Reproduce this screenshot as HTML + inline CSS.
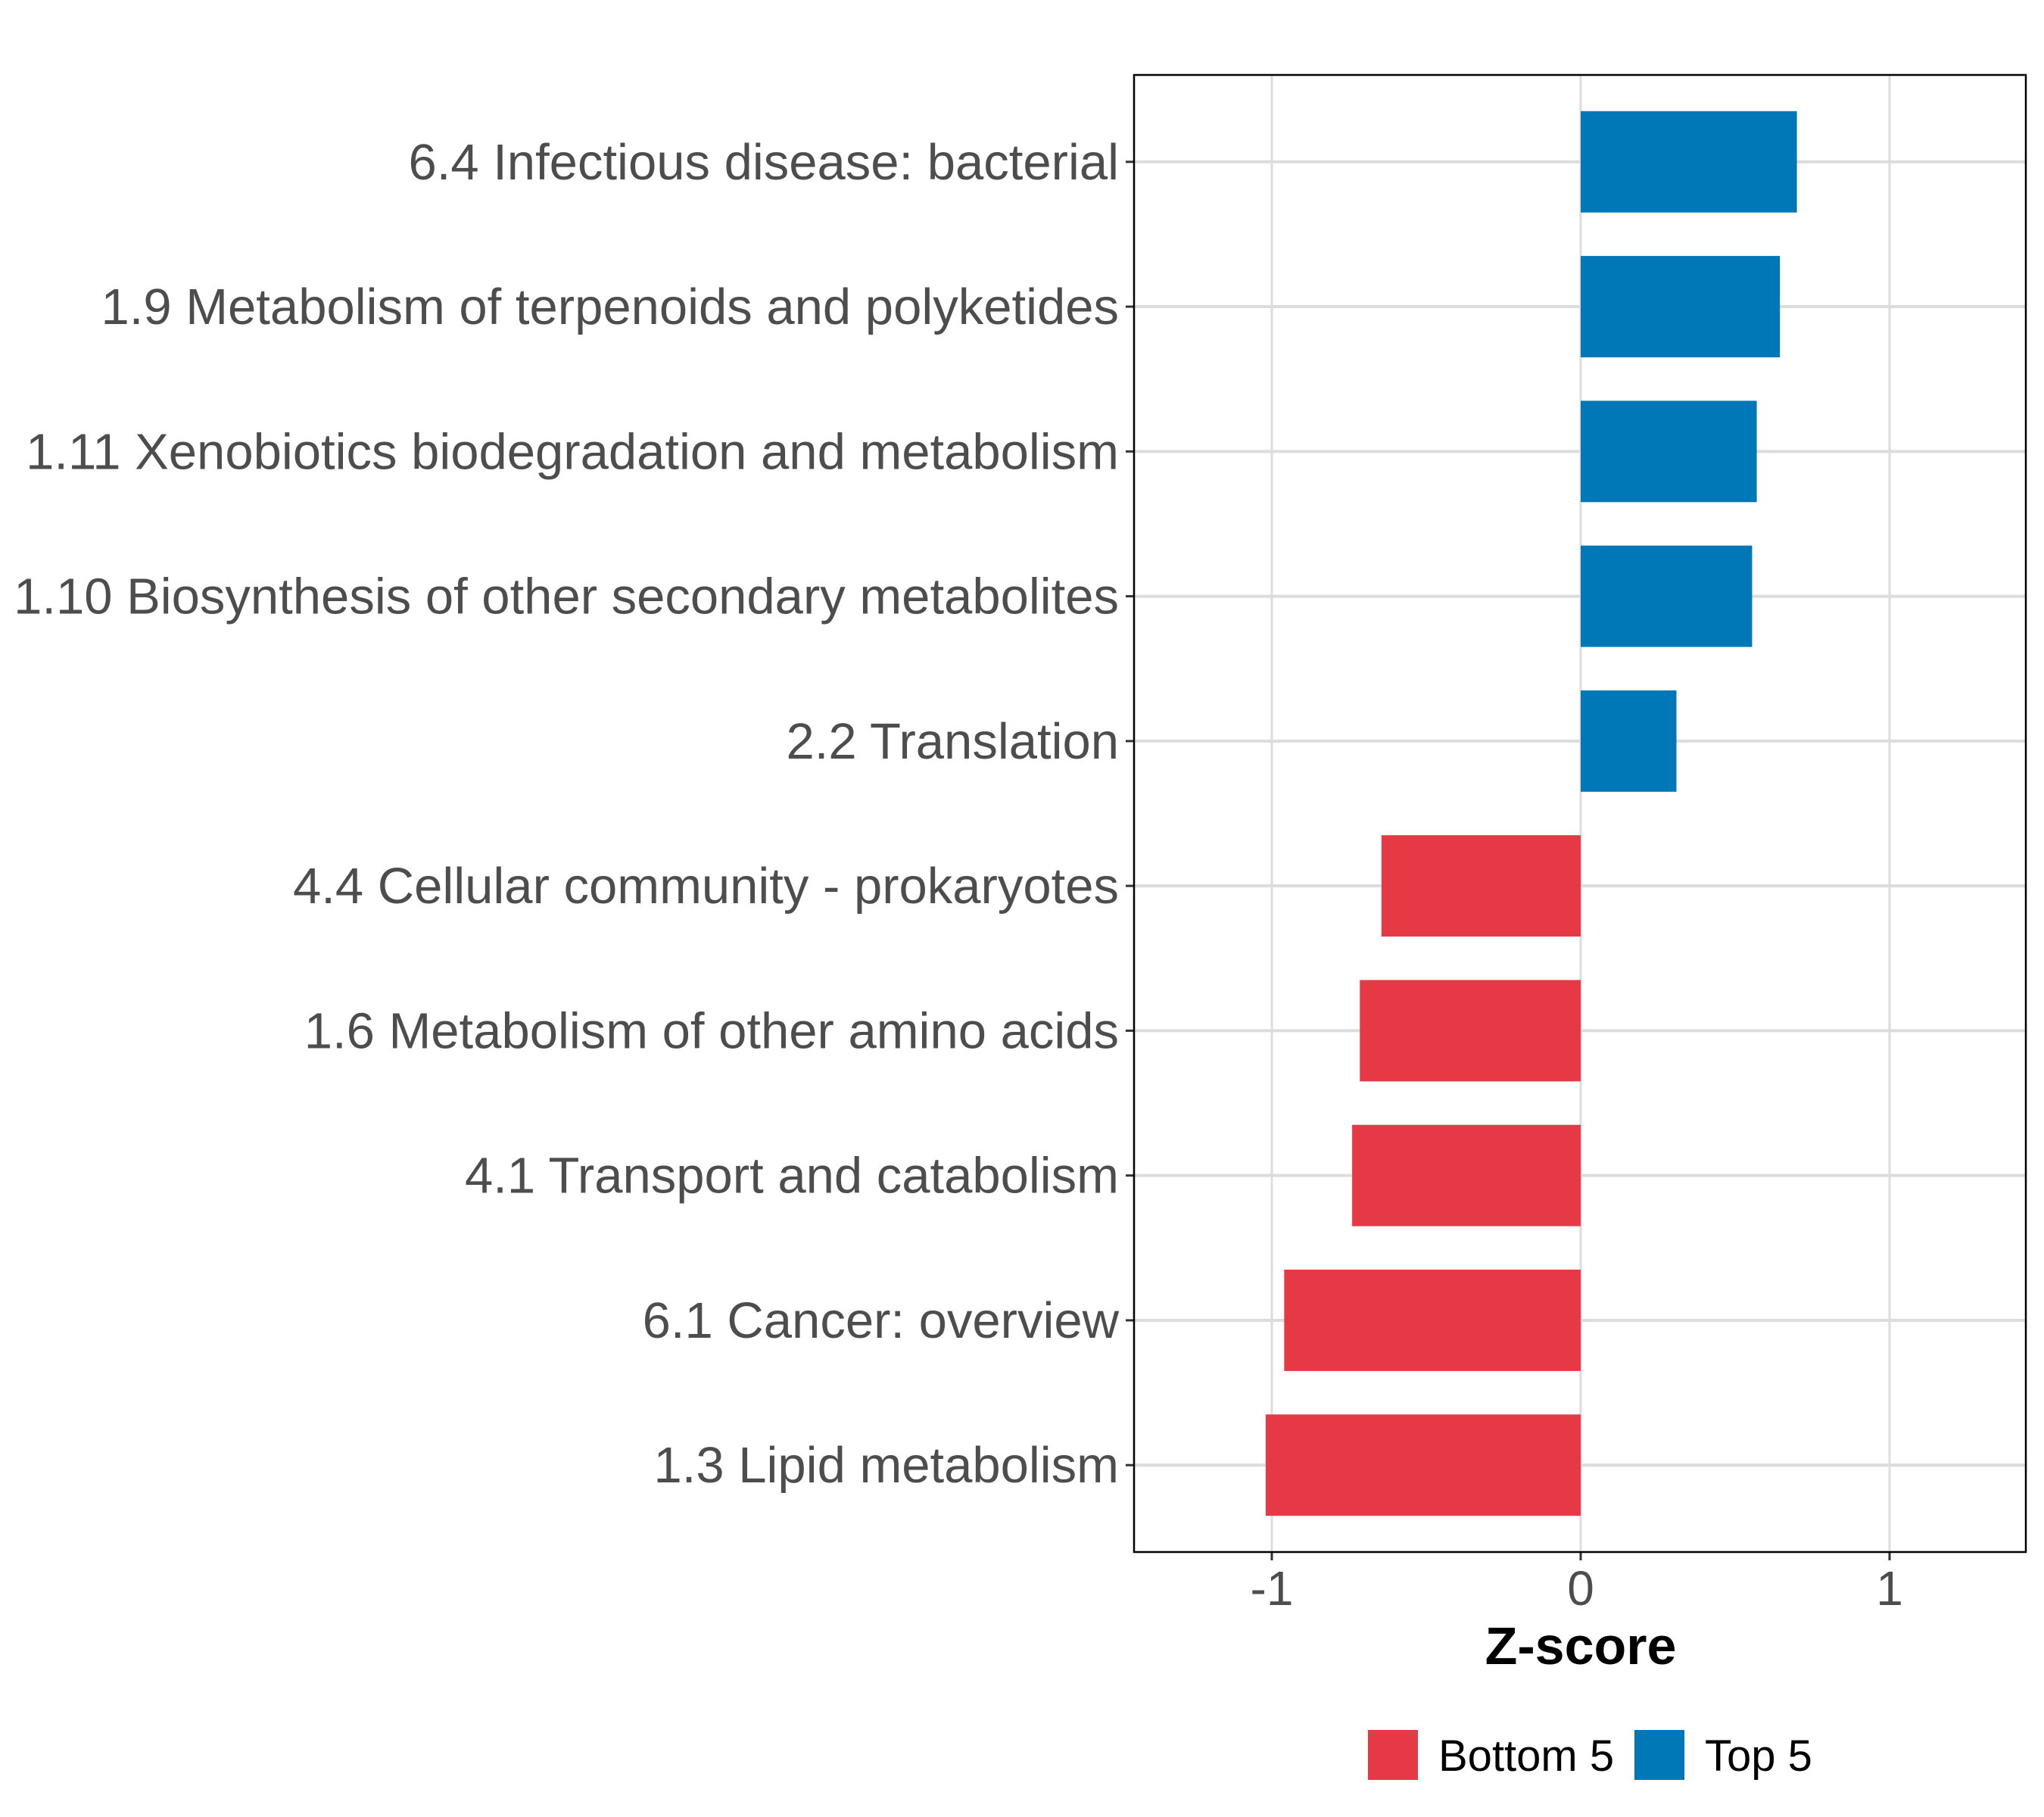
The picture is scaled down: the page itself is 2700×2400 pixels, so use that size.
<!DOCTYPE html>
<html><head><meta charset="utf-8"><style>
html,body{margin:0;padding:0;background:#fff;}
svg{display:block;font-family:"Liberation Sans",Arial,sans-serif;}
</style></head><body>
<svg id="chart" width="2700" height="2400" viewBox="0 0 2700 2400" xmlns="http://www.w3.org/2000/svg">
<rect width="2700" height="2400" fill="#fff"/>
<g id="grid"></g>
<g id="bars"></g>
<g id="yaxis"></g>
<g id="xaxis"></g>
<rect x="1498" y="99" width="1178" height="1951" fill="none" stroke="#000" stroke-width="2.5"/>
<text x="2088" y="2198" text-anchor="middle" font-size="70" font-weight="bold" fill="#000">Z-score</text>
<g>
<rect x="1807" y="2285" width="66" height="66" fill="#E63946"/>
<text x="1900" y="2339" font-size="58" fill="#000">Bottom 5</text>
<rect x="2159" y="2285" width="66" height="66" fill="#0077B6"/>
<text x="2252" y="2339" font-size="58" fill="#000">Top 5</text>
</g>
</svg>
<script>
const categories = ["6.4 Infectious disease: bacterial","1.9 Metabolism of terpenoids and polyketides","1.11 Xenobiotics biodegradation and metabolism","1.10 Biosynthesis of other secondary metabolites","2.2 Translation","4.4 Cellular community - prokaryotes","1.6 Metabolism of other amino acids","4.1 Transport and catabolism","6.1 Cancer: overview","1.3 Lipid metabolism"];
const values = [0.70, 0.645, 0.57, 0.555, 0.31, -0.645, -0.715, -0.74, -0.96, -1.02];
const groups = ["Top 5","Top 5","Top 5","Top 5","Top 5","Bottom 5","Bottom 5","Bottom 5","Bottom 5","Bottom 5"];
const xTicks = [-1, 0, 1];
const xTickLabels = ["-1","0","1"];

const NS="http://www.w3.org/2000/svg";
const PL=1498, PR=2676, PT=99, PB=2050;
const X0=2088, XU=408;
function xScale(v){return X0+v*XU;}
const step=(PB-PT)/(categories.length-1+1.2);
function yScale(i){return PT+step*(0.6+i);}
const colors={"Top 5":"#0077B6","Bottom 5":"#E63946"};
function mk(tag,attrs,parent){const e=document.createElementNS(NS,tag);for(const k in attrs)e.setAttribute(k,attrs[k]);parent.appendChild(e);return e;}
const grid=document.getElementById('grid'),bars=document.getElementById('bars'),ya=document.getElementById('yaxis'),xa=document.getElementById('xaxis');
xTicks.forEach((t,i)=>{
  const g=mk('line',{x1:xScale(t),x2:xScale(t),y1:PT,y2:PB,stroke:'#dcdcdc','stroke-width':3},grid);
  
  
  const tk=mk('line',{x1:xScale(t),x2:xScale(t),y1:PB,y2:PB+11,stroke:'#333','stroke-width':3},xa);
  
  
  const tl=mk('text',{x:xScale(t),y:2120,'text-anchor':'middle','font-size':64,fill:'#4d4d4d'},xa);
  tl.textContent=xTickLabels[i];
  
  
});
categories.forEach((c,i)=>{
  const y=yScale(i);
  const g=mk('line',{x1:PL,x2:PR,y1:y,y2:y,stroke:'#dcdcdc','stroke-width':4},grid);
  
  
  const v=values[i];
  const x1=Math.min(xScale(0),xScale(v)),w=Math.abs(xScale(v)-xScale(0));
  const h=step*0.7;
  const b=mk('rect',{x:x1,y:y-h/2,width:w,height:h,fill:colors[groups[i]]},bars);
  
  
  const tk=mk('line',{x1:PL-11,x2:PL,y1:y,y2:y,stroke:'#333','stroke-width':3},ya);
  
  
  const tl=mk('text',{x:PL-20,y:y+23,'text-anchor':'end','font-size':67,fill:'#4d4d4d'},ya);
  tl.textContent=c;
  
  
});
</script>
</body></html>
